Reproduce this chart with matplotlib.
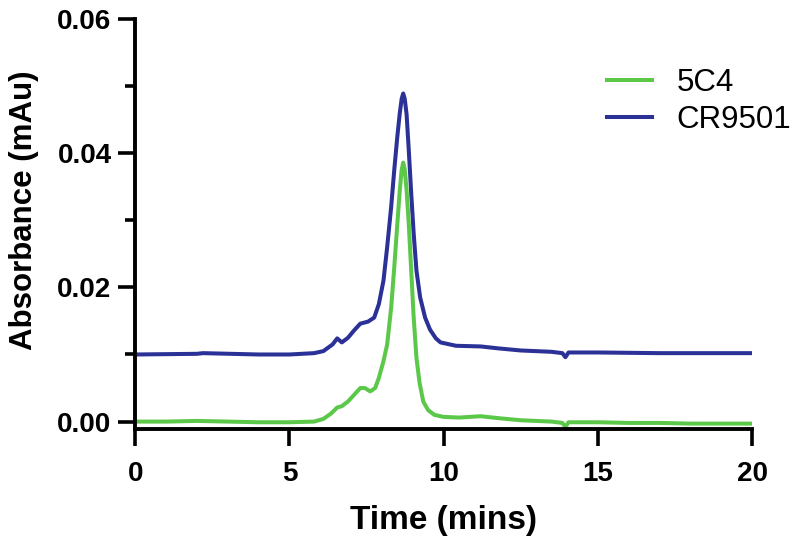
import numpy as np
import matplotlib.pyplot as plt

plt.rcParams['font.family'] = ['Liberation Sans', 'DejaVu Sans']

# 5C4 trace (time in mins, absorbance)
time_5c4 = [0, 1, 2, 3, 4, 5, 5.8, 6.1, 6.35, 6.55, 6.7, 6.9, 7.1, 7.3, 7.45,
            7.62, 7.78, 7.9, 8.05, 8.17, 8.3, 8.4, 8.5, 8.58, 8.64, 8.69, 8.74,
            8.8, 8.87, 8.95, 9.03, 9.12, 9.22, 9.34, 9.5, 9.7, 10.0, 10.5,
            11.2, 11.8, 12.5, 13.5, 13.85, 13.95, 14.05, 15, 16, 17, 18, 19, 20]
abs_5c4 = [0.0000, 0.0000, 0.0001, 0.0000, -0.0001, -0.0001, 0.0000, 0.0004,
           0.0012, 0.0021, 0.0023, 0.0030, 0.0040, 0.0050, 0.0050, 0.0045,
           0.0050, 0.0065, 0.0090, 0.0115, 0.0170, 0.0230, 0.0295, 0.0345,
           0.0375, 0.0386, 0.0376, 0.0345, 0.0295, 0.0225, 0.0155, 0.0095,
           0.0058, 0.0030, 0.0017, 0.0010, 0.0007, 0.0006, 0.0008, 0.0005,
           0.0002, 0.0000, -0.0002, -0.0008, -0.0001, -0.0001, -0.0002,
           -0.0002, -0.0003, -0.0003, -0.0003]

# CR9501 trace
time_cr = [0, 2, 2.2, 4, 5, 5.8, 6.1, 6.4, 6.55, 6.7, 6.9, 7.1, 7.3, 7.55,
           7.75, 7.9, 8.05, 8.17, 8.3, 8.4, 8.5, 8.58, 8.64, 8.69, 8.74, 8.8,
           8.87, 8.95, 9.03, 9.12, 9.24, 9.4, 9.56, 9.75, 9.9, 10.4, 11.2,
           11.8, 12.5, 13.5, 13.85, 13.95, 14.05, 15, 17, 20]
abs_cr = [0.0100, 0.0101, 0.0102, 0.0100, 0.0100, 0.0102, 0.0105, 0.0115,
          0.0124, 0.0118, 0.0125, 0.0136, 0.0146, 0.0149, 0.0155, 0.0175,
          0.0210, 0.0260, 0.0320, 0.0375, 0.0425, 0.0460, 0.0481, 0.0489,
          0.0481, 0.0458, 0.0405, 0.0340, 0.0280, 0.0225, 0.0185, 0.0155,
          0.0137, 0.0124, 0.0118, 0.0113, 0.0112, 0.0109, 0.0106, 0.0104,
          0.0102, 0.0096, 0.0103, 0.0103, 0.0102, 0.0102]

fig = plt.figure(figsize=(8, 5.43), dpi=100)
ax = fig.add_axes([0.169, 0.21, 0.771, 0.755])

ax.plot(time_cr, abs_cr, color='#2b3196', linewidth=2.9, label='CR9501')
ax.plot(time_5c4, abs_5c4, color='#5cc84a', linewidth=2.9, label='5C4')

ax.set_xlim(0, 20)
ax.set_ylim(-0.0011, 0.06)
ax.set_xticks([0, 5, 10, 15, 20])
ax.set_yticks([0.0, 0.02, 0.04, 0.06])
ax.set_yticklabels(['0.00', '0.02', '0.04', '0.06'])
ax.set_yticks([0.01, 0.03, 0.05], minor=True)

for side in ['top', 'right']:
    ax.spines[side].set_visible(False)
for side in ['left', 'bottom']:
    ax.spines[side].set_linewidth(2.8)

ax.tick_params(axis='both', which='major', direction='out', length=12, width=2.6,
               labelsize=20)
ax.tick_params(axis='x', which='major', pad=11)
ax.tick_params(axis='y', which='major', pad=5)
ax.tick_params(axis='y', which='minor', direction='out', length=7, width=2.6)
for lbl in ax.get_xticklabels() + ax.get_yticklabels():
    lbl.set_fontweight('bold')

ax.set_xlabel('Time (mins)', fontsize=24, fontweight='bold', labelpad=13)
ax.set_ylabel('Absorbance (mAu)', fontsize=22.5, fontweight='bold')
ax.yaxis.set_label_coords(-0.156, 0.533)

handles, labels = ax.get_legend_handles_labels()
ax.legend(handles[::-1], labels[::-1], loc='upper left', bbox_to_anchor=(0.723, 0.926),
          bbox_transform=fig.transFigure, frameon=False, fontsize=22.5,
          handlelength=1.44, handletextpad=0.8, labelspacing=0.2)

fig.savefig('out.png', dpi=100)
